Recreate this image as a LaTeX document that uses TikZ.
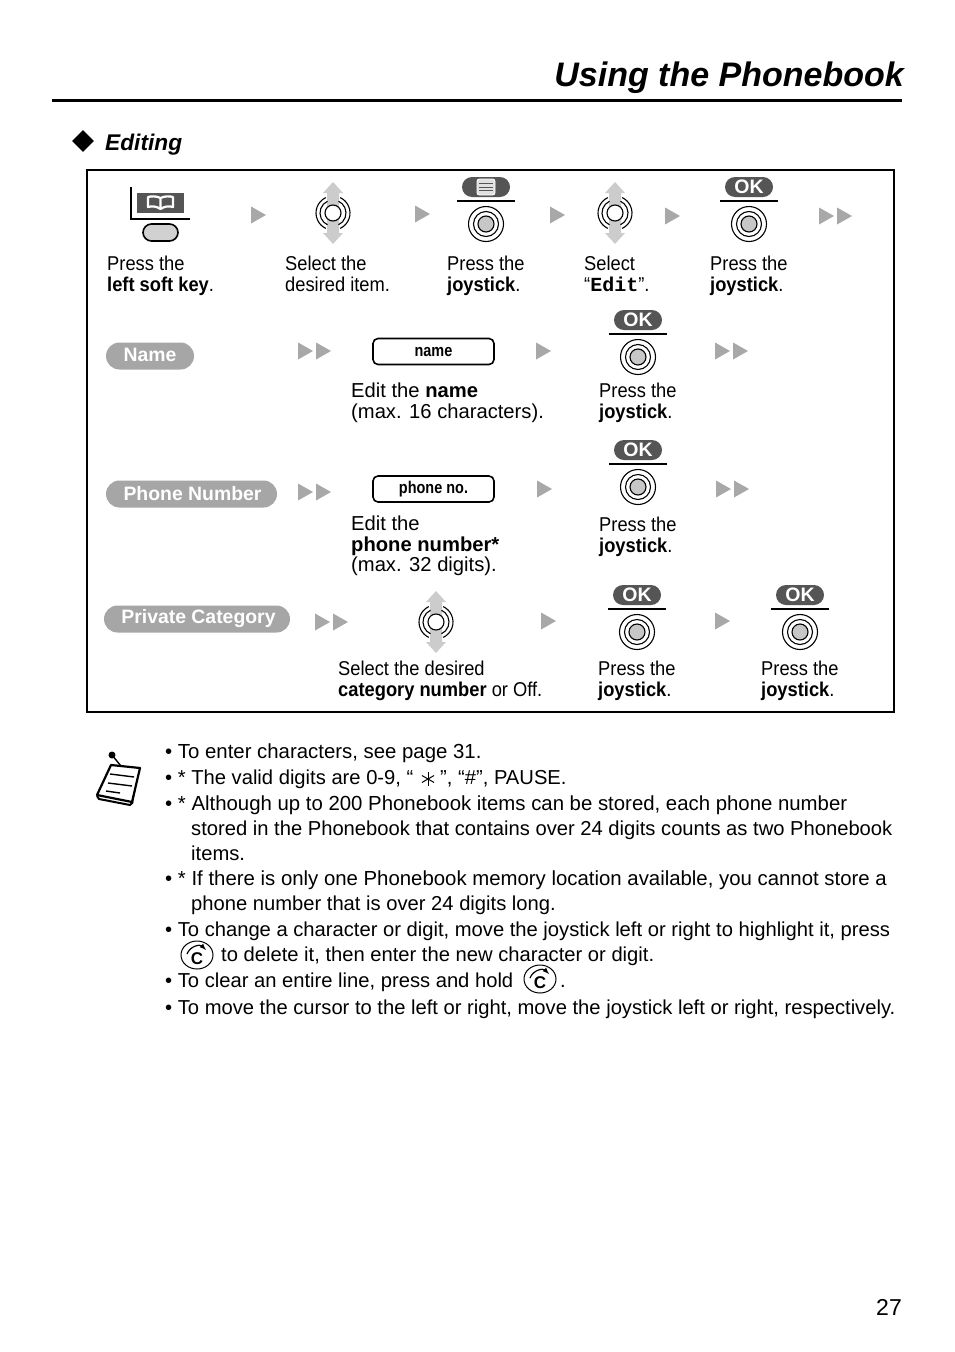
\documentclass[tikz,border=0pt]{standalone}
\usepackage{fontspec}
\usepackage{tikz}
\setmainfont{Liberation Sans}
\setmonofont{Liberation Mono}
\newfontfamily\condfont[FakeStretch=0.915]{Liberation Sans}
\newfontfamily\keyfont[FakeStretch=0.85]{Liberation Sans}
\usetikzlibrary{shapes.misc}
\usetikzlibrary{shapes.geometric}
\definecolor{keydark}{HTML}{555555}
\definecolor{tabgray}{HTML}{A6A6A6}
\definecolor{trigray}{HTML}{A8A8A8}
\definecolor{stemgray}{HTML}{CCCCCC}
\newcommand{\widernote}{\fontsize{20.37}{25}\selectfont}
\tikzset{
  narrowtext/.style={anchor=north west,inner sep=0pt,align=left,font=\condfont\fontsize{20}{20.5}\selectfont},
  widetext/.style={anchor=north west,inner sep=0pt,align=left,font=\fontsize{20.2}{20.2}\selectfont},
  noteline/.style={anchor=base west,inner sep=0pt,font=\fontsize{20.18}{25}\selectfont},
  tab/.style={rounded rectangle,fill=tabgray,text=white,inner sep=0pt,minimum height=27pt,font=\bfseries\fontsize{19.4}{20}\selectfont},
  entrybox/.style={draw,line width=1.6pt,rounded corners=5pt,minimum width=121pt,minimum height=26pt,inner sep=0pt,font=\keyfont\bfseries\fontsize{17}{18}\selectfont},
  okpill/.style={rounded rectangle,fill=keydark,text=white,minimum width=48pt,minimum height=20pt,inner sep=0pt,font=\bfseries\fontsize{19.5}{20}\selectfont},
  tri/.pic={\fill[trigray] (-7,-8.5) -- (8,0) -- (-7,8.5) -- cycle;},
  dtri/.pic={\fill[trigray] (-16,-8.5) -- (-1,0) -- (-16,8.5) -- cycle;
             \fill[trigray] (2,-8.5) -- (17,0) -- (2,8.5) -- cycle;},
  %press joystick rings
  pressjoy/.pic={
    \draw[line width=1.1pt] (0,0) circle (17.5pt);
    \draw[line width=1.1pt] (0,0) circle (12.5pt);
    \draw[line width=1.1pt,fill=black!22] (0,0) circle (8pt);},
  %joystick with up and down arrows
  selectjoy/.pic={
    \fill[stemgray] (-10,-20) -- (0,-31) -- (10,-20) -- (6,-20) -- (6,20) -- (10,20) -- (0,31) -- (-10,20) -- (-6,20) -- (-6,-20) -- cycle;
    \foreach \r in {17,13}{
      \draw[line width=1.1pt] (-65:\r pt) arc[start angle=-65,end angle=65,radius=\r pt];
      \draw[line width=1.1pt] (115:\r pt) arc[start angle=115,end angle=245,radius=\r pt];}
    \draw[line width=1.1pt,fill=white] (0,0) circle (8pt);},
  okjoy/.pic={
    \node[okpill] (-pill) at (0,0) {OK};
    \draw[line width=1.6pt] (-29,14) -- (29,14);
    \pic at (0,37) {pressjoy};},
  menujoy/.pic={
    \node[okpill] (-pill) at (0,0) {};
    \draw[white,fill=black!12,line width=.9pt,rounded corners=2.5pt] (-9,-8) rectangle (9,8);
    \foreach \y in {-3.5,0,3.5} \draw[keydark,line width=.8pt] (-7,\y) -- (7,\y);
    \draw[line width=1.6pt] (-29,14) -- (29,14);
    \pic at (0,37) {pressjoy};},
  softkey/.pic={
    \draw[line width=1.6pt] (0,0) -- (0,32) -- (59,32);
    \fill[keydark] (6,6) rectangle (53,26);
    \draw[white,line width=2.2pt,line join=round] (29.5,11) .. controls (25,9) and (21,9) .. (17,10) -- (17,20) .. controls (21,19) and (25,19) .. (29.5,22) .. controls (34,19) and (38,19) .. (42,20) -- (42,10) .. controls (38,9) and (34,9) .. (29.5,11) -- (29.5,22);
    \node[rounded rectangle,draw,line width=1.6pt,fill=black!18,minimum width=35pt,minimum height=17pt,inner sep=0pt] (-key) at (29.5,45.5) {};},
  clearkey/.pic={
    \draw[line width=1pt] (0,0) ellipse (16pt and 14pt);
    \node[inner sep=0pt,font=\bfseries\fontsize{17}{18}\selectfont] (-c) at (0,3.5) {C};
    \draw[line width=1.2pt,-latex] (-10,-1) .. controls (-7,-9) and (3,-11) .. (9,-5);},
  starmark/.pic={\foreach \a in {30,90,150} \draw[line width=1pt] (\a:7pt) -- (\a+180:7pt);},
  notepad/.pic={
    \fill (16,5) circle (3.5pt);
    \draw[line width=1.4pt] (16,5) -- (29,21);
    \draw[line width=2.2pt,line join=round,fill=white] (15,15) -- (44,18) -- (36,52) -- (1,45) -- cycle;
    \draw[line width=2pt,line join=round] (1,46) -- (3,49) -- (34,55) -- (37,52);
    \draw[line width=1.4pt] (39,40) -- (36,54);
    \draw[line width=1.4pt] (14,24) -- (38,27);
    \draw[line width=1.4pt] (12,33) -- (36,36);
    \draw[line width=1.4pt] (10,41) -- (24,43);}
}
\begin{document}
\begin{tikzpicture}[x=1pt,y=-1pt]
  \path[use as bounding box,fill=white] (0,0) rectangle (954,1352);
  %heading
  \node[anchor=base east,inner sep=0pt,font=\bfseries\itshape\fontsize{34}{36}\selectfont] (title) at (904,86) {Using the Phonebook};
  \coordinate (ruleL) at (52,100);
  \coordinate (ruleR) at (902,100);
  \draw[line width=3pt] (ruleL) -- (ruleR);
  \node[diamond,fill=black,inner sep=0pt,minimum width=22pt,minimum height=22pt] (mark) at (83,141) {};
  \node[anchor=base west,inner sep=0pt,font=\bfseries\itshape\fontsize{22.7}{24}\selectfont] (editing) at (105,150) {Editing};
  \draw[line width=1.5pt] (87,170) rectangle (894,712);

  %first row
  \pic (soft) at (131,187) {softkey};
  \pic at (258,215) {tri};
  \pic at (333,213) {selectjoy};
  \pic at (422,214) {tri};
  \pic (menu) at (486,187) {menujoy};
  \pic at (557,215) {tri};
  \pic at (615,213) {selectjoy};
  \pic at (672,216) {tri};
  \pic (okA) at (749,187) {okjoy};
  \pic at (835,216) {dtri};
  \node[narrowtext] (softtext) at (107,256) {Press the\\\textbf{left soft key}.};
  \node[narrowtext] (itemtext) at (285,256) {Select the\\desired item.};
  \node[narrowtext] (menutext) at (447,256) {Press the\\\textbf{joystick}.};
  \node[narrowtext] (edittext) at (584,256) {Select\\“\texttt{\textbf{Edit}}”.};
  \node[narrowtext] (oktextA) at (710,256) {Press the\\\textbf{joystick}.};

  %name row
  \node[tab,minimum width=88pt] (nametab) at (150,356) {\raisebox{2pt}{Name}};
  \pic at (314,351) {dtri};
  \node[entrybox] (namebox) at (433.5,351.5) {\raisebox{-2pt}{name}};
  \pic at (543,351) {tri};
  \pic (okB) at (638,320) {okjoy};
  \pic at (731,351) {dtri};
  \node[widetext] (nametext) at (351,383) {Edit the \textbf{name}\\(max. 16 characters).};
  \node[narrowtext] (oktextB) at (599,383) {Press the\\\textbf{joystick}.};

  %phone number row
  \node[tab,minimum width=171pt] (phonetab) at (191.5,494) {\hspace*{2pt}\raisebox{2pt}{Phone Number}};
  \pic at (314,492) {dtri};
  \node[entrybox] (phonebox) at (433.5,489) {\raisebox{-2pt}{phone no.}};
  \pic at (544,489) {tri};
  \pic (okC) at (638,450) {okjoy};
  \pic at (732,489) {dtri};
  \node[widetext] (phonetext) at (351,516) {Edit the\\\textbf{phone number*}\\(max. 32 digits).};
  \node[narrowtext] (oktextC) at (599,517) {Press the\\\textbf{joystick}.};

  %private category row
  \node[tab,minimum width=186pt] (privtab) at (197,619) {\hspace*{3pt}\raisebox{-1pt}{Private Category}};
  \pic at (331,622) {dtri};
  \pic at (436,622) {selectjoy};
  \pic at (548,621) {tri};
  \pic (okD) at (637,595) {okjoy};
  \pic at (722,621) {tri};
  \pic (okE) at (800,595) {okjoy};
  \node[narrowtext] (cattext) at (338,661) {Select the desired\\\textbf{category number} or Off.};
  \node[narrowtext] (oktextD) at (598,661) {Press the\\\textbf{joystick}.};
  \node[narrowtext] (oktextE) at (761,661) {Press the\\\textbf{joystick}.};

  %notes
  \pic at (96,750) {notepad};
  \foreach \i/\x/\y/\t in {
    a/165/758/{\widernote • To enter characters, see page 31.},
    b/165/784/{• * The valid digits are 0-9, “},
    c/440/784/{”, “\#”, PAUSE.},
    d/165/810/{\widernote • * Although up to 200 Phonebook items can be stored, each phone number},
    e/191/835/{stored in the Phonebook that contains over 24 digits counts as two Phonebook},
    f/191/860/{items.},
    g/165/885/{\widernote • * If there is only one Phonebook memory location available, you cannot store a},
    h/191/910/{phone number that is over 24 digits long.},
    j/165/936/{• To change a character or digit, move the joystick left or right to highlight it, press},
    k/221/961/{to delete it, then enter the new character or digit.},
    l/165/987/{• To clear an entire line, press and hold},
    m/560/987/{.},
    n/165/1014/{• To move the cursor to the left or right, move the joystick left or right, respectively.}}
    \node[noteline] (note\i) at (\x,\y) {\t};
  \pic at (428,779) {starmark};
  \pic (clearA) at (197,955) {clearkey};
  \pic (clearB) at (540,979) {clearkey};

  \node[anchor=base east,inner sep=0pt,font=\fontsize{23}{24}\selectfont] (page) at (902,1315) {27};
\end{tikzpicture}
\end{document}
